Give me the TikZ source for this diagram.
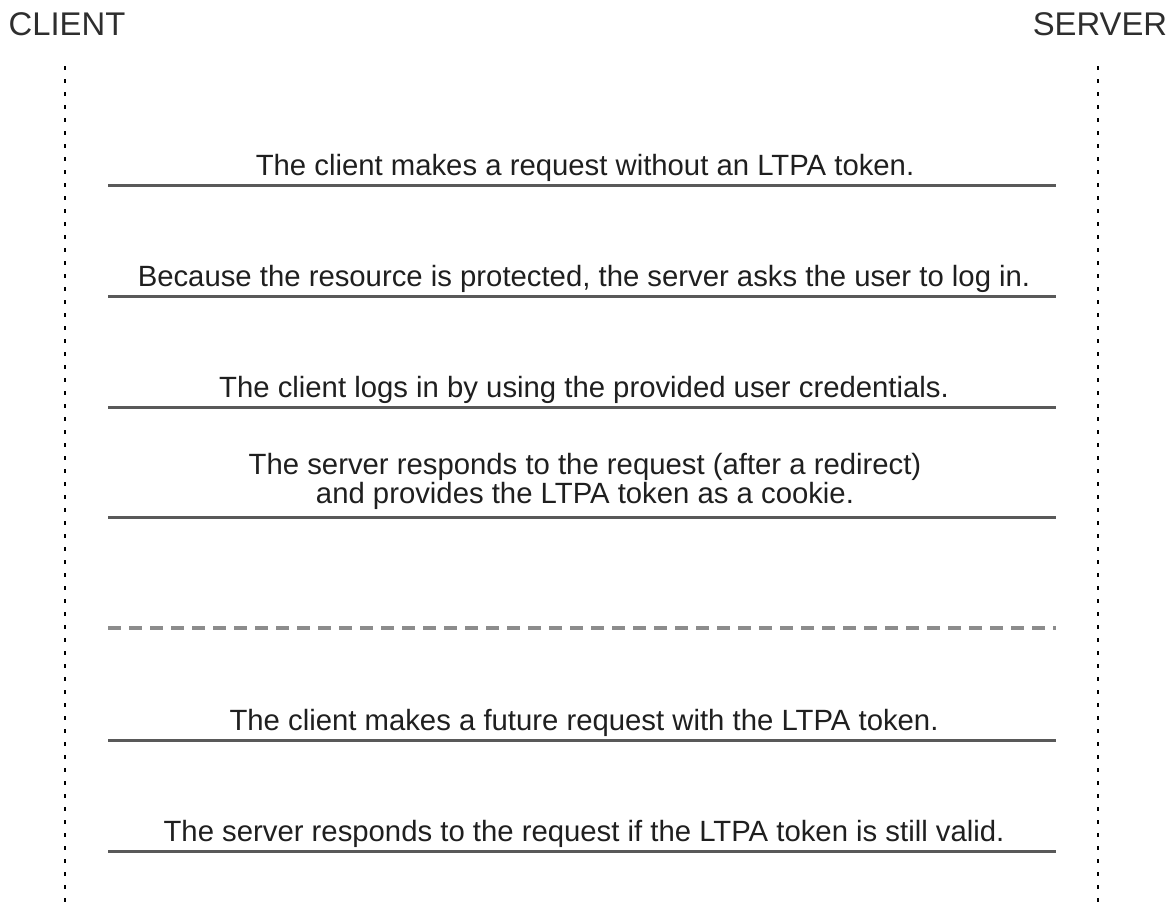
\documentclass[tikz,border=0pt]{standalone}
\usepackage{fontspec}
\setmainfont{Liberation Sans}
\begin{document}
\begin{tikzpicture}[x=1pt,y=-1pt,
  lifeline/.style={draw=black,line width=2.5pt,dash pattern=on 4pt off 9pt},
  msg/.style={draw=black!65,line width=3pt},
  sep/.style={draw=black!45,line width=3.5pt,dash pattern=on 13pt off 8pt},
  lbl/.style={text=black!88,font=\fontsize{29.3}{27}\selectfont,anchor=base,inner sep=0pt,align=center},
  hdr/.style={text=black!82,font=\fontsize{32.8}{34}\selectfont,anchor=base,inner sep=0pt}]
\useasboundingbox (0,0) rectangle (1170,908);
\node[hdr] (client) at (67,35) {CLIENT};
\node[hdr] (server) at (1100,35) {SERVER};
\coordinate (ctop) at (65,66);
\coordinate (cbot) at (65,908);
\coordinate (stop) at (1098,66);
\coordinate (sbot) at (1098,908);
\draw[lifeline] (ctop) -- (cbot);
\draw[lifeline] (stop) -- (sbot);
\foreach \n/\y in {a/185,b/296,c/407,d/517,e/628,f/740,g/851}{
  \coordinate (\n l) at (108,\y);
  \coordinate (\n r) at (1056,\y);
}
\draw[msg] (al) -- (ar);
\draw[msg] (bl) -- (br);
\draw[msg] (cl) -- (cr);
\draw[msg] (dl) -- (dr);
\draw[sep] (el) -- (er);
\draw[msg] (fl) -- (fr);
\draw[msg] (gl) -- (gr);
\node[lbl] (ta) at (585,175) {The client makes a request without an LTPA token.};
\node[lbl] (tb) at (584,286) {Because the resource is protected, the server asks the user to log in.};
\node[lbl] (tc) at (584,397) {The client logs in by using the provided user credentials.};
\node[lbl] (td) at (585,503) {The server responds to the request (after a redirect)\\and provides the LTPA token as a cookie.};
\node[lbl] (tf) at (584,730) {The client makes a future request with the LTPA token.};
\node[lbl] (tg) at (584,841) {The server responds to the request if the LTPA token is still valid.};
\end{tikzpicture}
\end{document}
